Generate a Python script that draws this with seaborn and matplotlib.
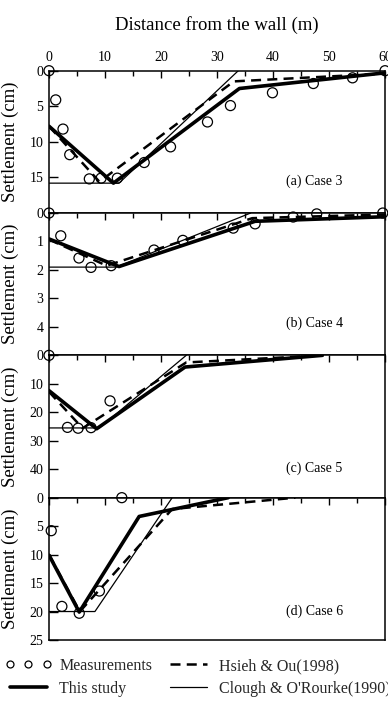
import matplotlib
matplotlib.use("Agg")
import matplotlib.pyplot as plt
import seaborn as sns
from matplotlib.lines import Line2D
from matplotlib.ticker import MultipleLocator

# ---------------- data ----------------
# Case 3
c3_meas_x = [0, 1.2, 2.5, 3.7, 7.2, 9.3, 12.2, 17.0, 21.7, 28.3, 32.4, 39.9, 47.2, 54.2, 60.0]
c3_meas_y = [0, 4.1, 8.2, 11.8, 15.2, 15.1, 15.1, 12.9, 10.7, 7.2, 4.9, 3.1, 1.8, 1.0, 0.0]
c3_this_x = [0, 11.5, 34.0, 60]
c3_this_y = [7.8, 15.8, 2.5, 0.3]
c3_hsieh_x = [0, 9.0, 33.0, 60]
c3_hsieh_y = [7.8, 15.6, 1.5, 0.4]
c3_clough_x = [0, 12.5, 33.8]
c3_clough_y = [15.8, 15.8, 0]

# Case 4
c4_meas_x = [0, 2.1, 5.35, 7.5, 11.1, 18.75, 23.9, 32.9, 36.8, 43.6, 47.8, 59.6]
c4_meas_y = [0, 0.8, 1.58, 1.91, 1.85, 1.3, 0.96, 0.53, 0.38, 0.14, 0.03, 0.0]
c4_this_x = [0, 12.5, 36.8, 60]
c4_this_y = [0.91, 1.88, 0.29, 0.13]
c4_hsieh_x = [0, 10.3, 36.3, 60]
c4_hsieh_y = [0.93, 1.85, 0.18, 0.05]
c4_clough_x = [0, 12.0, 36.0]
c4_clough_y = [1.9, 1.9, 0]

# Case 5
c5_meas_x = [0, 3.3, 5.2, 7.5, 10.9]
c5_meas_y = [0, 25.3, 25.6, 25.4, 16.0]
c5_this_x = [0, 8.5, 24.3, 48.8]
c5_this_y = [12.4, 25.8, 4.1, 0]
c5_hsieh_x = [0, 6.0, 24.5, 49.0]
c5_hsieh_y = [12.8, 25.6, 2.5, 0]
c5_clough_x = [0, 9.0, 24.5]
c5_clough_y = [25.5, 25.5, 0]

# Case 6
c6_meas_x = [0.4, 2.3, 5.4, 9.0, 13.0]
c6_meas_y = [5.8, 19.1, 20.3, 16.4, 0.0]
c6_this_x = [0, 5.4, 16.1, 32.0]
c6_this_y = [10.1, 20.1, 3.3, 0]
c6_hsieh_x = [0, 5.5, 22.0, 44.0]
c6_hsieh_y = [10.0, 20.0, 2.0, 0]
c6_clough_x = [0, 8.2, 22.0]
c6_clough_y = [20.0, 20.0, 0]

panel_labels = ["(a) Case 3", "(b) Case 4", "(c) Case 5", "(d) Case 6"]
panel_label_y = [0.226, 0.228, 0.21, 0.20]
y_max = [20, 5, 50, 25]
y_ticks = [[0, 5, 10, 15], [0, 1, 2, 3, 4], [0, 10, 20, 30, 40], [0, 5, 10, 15, 20, 25]]
x_ticks = [0, 10, 20, 30, 40, 50, 60]

legend_labels = ["Measurements", "This study", "Hsieh & Ou(1998)", "Clough & O'Rourke(1990)"]

cases = [
    (c3_meas_x, c3_meas_y, c3_this_x, c3_this_y, c3_hsieh_x, c3_hsieh_y, c3_clough_x, c3_clough_y),
    (c4_meas_x, c4_meas_y, c4_this_x, c4_this_y, c4_hsieh_x, c4_hsieh_y, c4_clough_x, c4_clough_y),
    (c5_meas_x, c5_meas_y, c5_this_x, c5_this_y, c5_hsieh_x, c5_hsieh_y, c5_clough_x, c5_clough_y),
    (c6_meas_x, c6_meas_y, c6_this_x, c6_this_y, c6_hsieh_x, c6_hsieh_y, c6_clough_x, c6_clough_y),
]

# ---------------- style ----------------
sns.set_theme(style="ticks")
plt.rcParams["font.family"] = ["Liberation Serif", "DejaVu Serif"]
plt.rcParams["axes.linewidth"] = 1.1
plt.rcParams["axes.edgecolor"] = "black"

DASH = (0, (4, 2.5))

fig, axes = plt.subplots(4, 1, figsize=(3.88, 7.10), dpi=100)
fig.subplots_adjust(left=0.1263, right=0.9923, top=0.9004, bottom=0.0986, hspace=0)

for i, (ax, case) in enumerate(zip(axes, cases)):
    mx, my, tx, ty, hx, hy, cx, cy = case
    sns.lineplot(x=cx, y=cy, ax=ax, color="black", lw=0.9, sort=False,
                 estimator=None, legend=False)
    sns.lineplot(x=hx, y=hy, ax=ax, color="black", lw=1.8, sort=False,
                 estimator=None, legend=False, linestyle=DASH)
    sns.lineplot(x=tx, y=ty, ax=ax, color="black", lw=2.6, sort=False,
                 estimator=None, legend=False)
    sns.scatterplot(x=mx, y=my, ax=ax, marker="o", s=52, facecolors="none",
                    edgecolors="black", linewidths=0.9, zorder=5, clip_on=False,
                    legend=False)
    ax.set_xlim(0, 60)
    ax.set_ylim(y_max[i], 0)
    ax.set_xticks(x_ticks)
    ax.xaxis.set_minor_locator(MultipleLocator(5))
    ax.set_yticks(y_ticks[i])
    ax.set_yticklabels([str(v) for v in y_ticks[i]])
    ax.xaxis.tick_top()
    ax.tick_params(axis="x", which="both", direction="in", top=True, bottom=False,
                   labeltop=(i == 0), labelbottom=False, labelsize=10, pad=5,
                   color="black", labelcolor="black")
    ax.tick_params(axis="x", which="major", length=5, width=1)
    ax.tick_params(axis="x", which="minor", length=3.5, width=1)
    ax.tick_params(axis="y", which="major", direction="in", length=6.5, width=1,
                   labelsize=10, pad=4, color="black", labelcolor="black")
    for sp in ax.spines.values():
        sp.set_visible(True)
        sp.set_color("black")
        sp.set_linewidth(1.1)
    ax.set_ylabel("Settlement (cm)", fontsize=13.5, color="black")
    ax.yaxis.set_label_coords(-0.088, 0.5)
    ax.set_xlabel("")
    ax.text(0.705, panel_label_y[i], panel_labels[i], transform=ax.transAxes,
            fontsize=10, ha="left", va="center", color="black")

axes[0].xaxis.set_label_position("top")
axes[0].set_xlabel("Distance from the wall (m)", fontsize=13.5, labelpad=15, color="black")

handles = [
    Line2D([0], [0], marker="o", ls="none", mfc="none", mec="black", ms=5, mew=0.9),
    Line2D([0], [0], color="black", lw=2.6),
    Line2D([0], [0], color="black", lw=1.8, linestyle=DASH),
    Line2D([0], [0], color="black", lw=0.9),
]
fig.legend(handles, legend_labels, ncol=2, loc="upper left",
           bbox_to_anchor=(5 / 388, 1 - 658 / 710), frameon=False, fontsize=11.5,
           handlelength=2.9, handletextpad=0.5, columnspacing=0.8, labelspacing=0.42,
           borderpad=0, borderaxespad=0, numpoints=3)

fig.savefig("out.png", dpi=100)
